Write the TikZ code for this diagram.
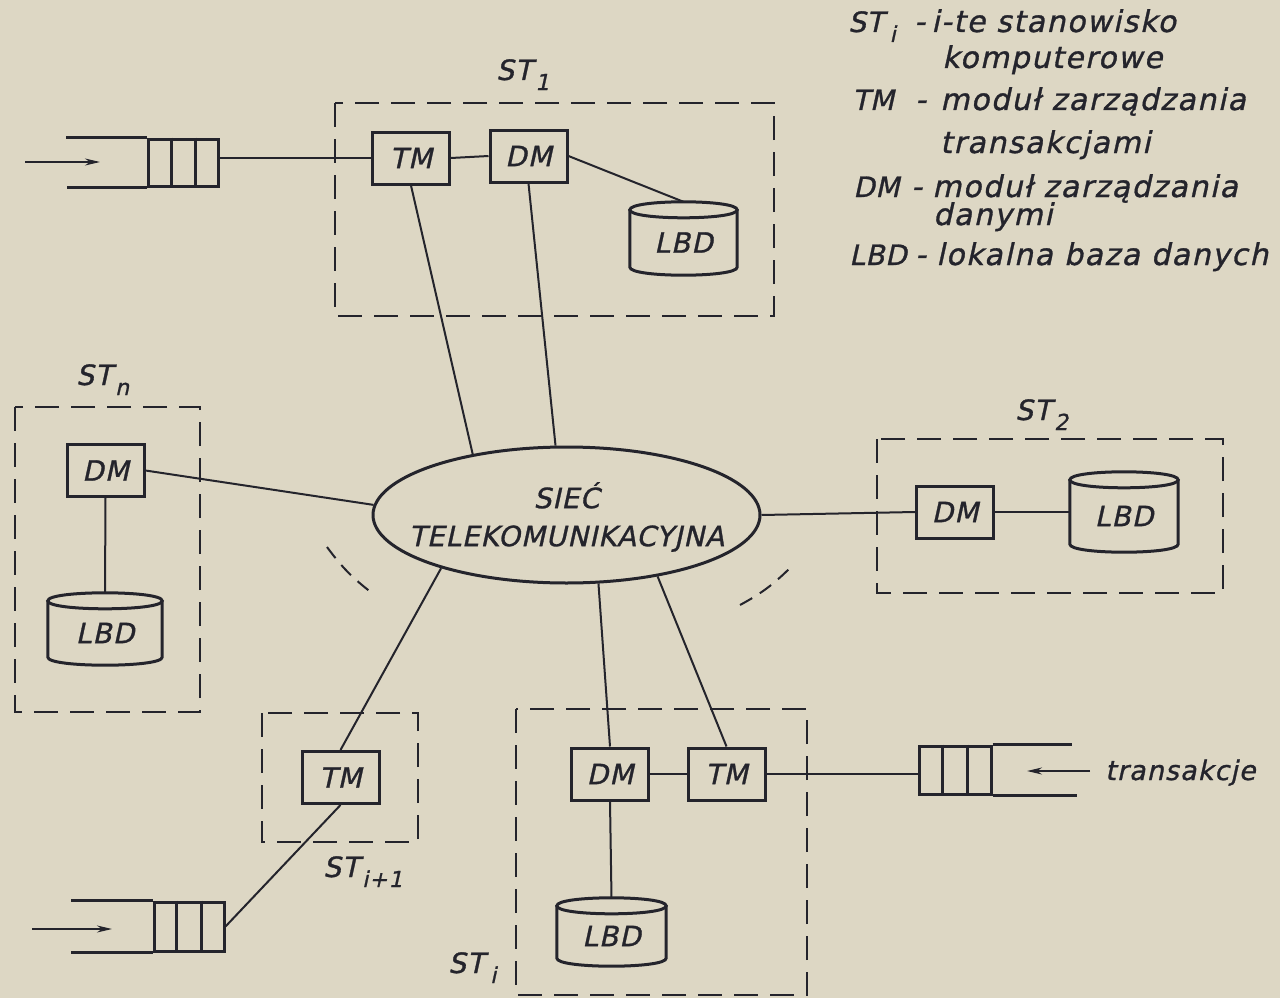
\documentclass[tikz,border=0pt]{standalone}
\usepackage{fontspec}
\setmainfont{DejaVu Sans}[FakeSlant=0.22,FakeBold=1,LetterSpace=5]
\usetikzlibrary{shapes.geometric,arrows.meta,calc}
\definecolor{paper}{RGB}{221,215,196}
\definecolor{ink}{RGB}{36,36,44}
\newcommand\lblfont{\fontsize{28}{32}\selectfont\addfontfeature{LetterSpace=4}}
\newcommand\legfont{\fontsize{30}{34}\selectfont}
\newcommand\keyfont{\fontsize{28}{34}\selectfont\addfontfeature{LetterSpace=2}}
\newcommand\netfont{\fontsize{28}{38}\selectfont\addfontfeature{LetterSpace=3}}
\newcommand\trxfont{\fontsize{27}{30}\selectfont\addfontfeature{LetterSpace=4}}
\newcommand\sbs[1]{\kern3pt\raisebox{-10pt}{\fontsize{22}{22}\selectfont #1}}
\newcommand\sbi{\kern6pt\raisebox{-10pt}{\fontsize{22}{22}\selectfont i}}
\newcommand\cyl[1]{%
  \draw[dbline] ([yshift=-8pt]#1.north west) -- ([yshift=8pt]#1.south west)
    .. controls ([yshift=-2.67pt]#1.south west) and ([yshift=-2.67pt]#1.south east) .. ([yshift=8pt]#1.south east)
    -- ([yshift=-8pt]#1.north east);
  \draw[dbline] ([yshift=-8pt]#1.north west)
    .. controls ([yshift=2.67pt]#1.north west) and ([yshift=2.67pt]#1.north east) .. ([yshift=-8pt]#1.north east)
    .. controls ([yshift=-18.67pt]#1.north east) and ([yshift=-18.67pt]#1.north west) .. cycle;}
\newcommand\qcells[1]{%
  \draw[qline] ($(#1.north west)!1/3!(#1.north east)$) -- ($(#1.south west)!1/3!(#1.south east)$);
  \draw[qline] ($(#1.north west)!2/3!(#1.north east)$) -- ($(#1.south west)!2/3!(#1.south east)$);}
\begin{document}
\begin{tikzpicture}[x=1pt,y=-1pt,
  mod/.style={draw=ink,line width=3pt,minimum width=77pt,minimum height=52pt,inner sep=0pt,font=\lblfont,text=ink},
  db/.style={inner sep=0pt,label={[font=\lblfont,text=ink,yshift=-4pt]center:LBD}},
  dbline/.style={draw=ink,line width=3pt},
  stbox/.style={draw=ink,line width=2.2pt,dash pattern=on 24pt off 12pt},
  link/.style={draw=ink,line width=2pt},
  que/.style={draw=ink,line width=3pt,inner sep=0pt},
  qline/.style={draw=ink,line width=3pt},
  arr/.style={draw=ink,line width=2pt,-{Stealth[length=15pt,width=7pt]}},
  net/.style={ellipse,draw=ink,line width=3pt,inner sep=0pt,minimum width=387pt,minimum height=136pt},
  txt/.style={inner sep=0pt,anchor=base west,text=ink},
  dots/.style={draw=ink,line width=2pt,dash pattern=on 14pt off 9pt}
]
\fill[paper] (0,0) rectangle (1280,998);
\useasboundingbox (0,0) rectangle (1280,998);

% station outlines
\draw[stbox] (335,103) rectangle (774,316);
\draw[stbox] (15,407) rectangle (200,712);
\draw[stbox] (877,439) rectangle (1223,593);
\draw[stbox] (262,713) rectangle (418,842);
\draw[stbox] (516,709) rectangle (807,995);

% station labels
\node[txt,font=\lblfont] (lst1) at (496,80) {ST\sbs{1}};
\node[txt,font=\lblfont] (lstn) at (76,385) {ST\sbs{n}};
\node[txt,font=\lblfont] (lst2) at (1015,420) {ST\sbs{2}};
\node[txt,font=\lblfont] (lsti1) at (323,877) {ST\sbs{i+1}};
\node[txt,font=\lblfont] (lsti) at (448,973) {ST\sbi};

% network
\node[net] (net) at (566.5,515) {};
\node[font=\netfont,align=center,text=ink,inner sep=0pt] (nettxt) at ([yshift=-2pt]net.center) {SIEĆ\\TELEKOMUNIKACYJNA};

% modules
\node[mod] (TM1) at (411,158) {TM};
\node[mod] (DM1) at (528.5,156) {DM};
\node[db,minimum width=107pt,minimum height=73pt] (LBD1) at (683.5,238.5) {};
\node[mod] (DMn) at (105.5,470.5) {DM};
\node[db,minimum width=114pt,minimum height=72pt] (LBDn) at (105,629) {};
\node[mod] (DM2) at (955,512) {DM};
\node[db,minimum width=108pt,minimum height=80pt] (LBD2) at (1124,512) {};
\node[mod] (TMi1) at (340.5,777.5) {TM};
\node[mod] (DMi) at (610,774) {DM};
\node[mod] (TMi) at (726.5,774) {TM};
\node[db,minimum width=109pt,minimum height=68pt] (LBDi) at (611.5,932) {};
\cyl{LBD1}\cyl{LBDn}\cyl{LBD2}\cyl{LBDi}

% queues
\node[que,minimum width=70pt,minimum height=47pt] (Q1) at (183.5,162.5) {};
\qcells{Q1}
\draw[qline] (Q1.north west) -- ++(-81,0);
\draw[qline] (Q1.south west) -- ++(-80,0);
\coordinate (a1s) at (25,162);
\coordinate (a1e) at (100,162);
\draw[arr] (a1s) -- (a1e);

\node[que,minimum width=70pt,minimum height=49pt] (Q3) at (189,926.5) {};
\qcells{Q3}
\draw[qline] (Q3.north west) -- ++(-82,0);
\draw[qline] (Q3.south west) -- ++(-82,0);
\coordinate (a3s) at (32,929);
\coordinate (a3e) at (112,929);
\draw[arr] (a3s) -- (a3e);

\node[que,minimum width=72pt,minimum height=48pt] (Q4) at (955,770) {};
\qcells{Q4}
\draw[qline] (Q4.north east) -- ++(79,0);
\draw[qline] (Q4.south east) -- ++(84,0);
\coordinate (a4s) at (1090,771);
\coordinate (a4e) at (1027,771);
\draw[arr] (a4s) -- (a4e);
\node[txt,font=\trxfont] (trx) at (1105,780) {transakcje};

% connectors
\draw[link] (TM1.west -| Q1.east) -- (TM1.west);
\draw[link] (TM1.east) -- (DM1.west);
\draw[link] (DM1.east) -- (LBD1.north);
\draw[link] (TM1.south) -- (net.147);
\draw[link] (DM1.south) -- (net.99);
\draw[link] (DMn.east) -- (net.177);
\draw[link] (DMn.south) -- (LBDn.north);
\draw[link] (net.east) -- (DM2.west);
\draw[link] (DM2.east) -- (LBD2.west);
\draw[link] (net.203) -- (TMi1.north);
\draw[link] (TMi1.south) -- (Q3.east);
\draw[link] (net.295) -- (DMi.north);
\draw[link] (net.326) -- (TMi.north);
\draw[link] (DMi.east) -- (TMi.west);
\draw[link] (DMi.south) -- (LBDi.north);
\draw[link] (TMi.east) -- (TMi.east -| Q4.west);

% ellipsis marks for further stations
\draw[dots] (327,547) to[bend right=8] (372,593);
\draw[dots] (740,605) to[bend right=8] (790,568);

% legend
\node[txt,font=\keyfont] (k1) at (848,32) {ST\sbi};
\node[txt,font=\legfont] (h1) at (914,32) {-};
\node[txt,font=\legfont] (e1) at (931,32) {i-te stanowisko};
\node[txt,font=\legfont] (e1b) at (942,68) {komputerowe};
\node[txt,font=\keyfont] (k2) at (852,110) {TM};
\node[txt,font=\legfont] (h2) at (915,110) {-};
\node[txt,font=\legfont] (e2) at (940,110) {moduł zarządzania};
\node[txt,font=\legfont] (e2b) at (940,153) {transakcjami};
\node[txt,font=\keyfont] (k3) at (853,197) {DM};
\node[txt,font=\legfont] (h3) at (911,197) {-};
\node[txt,font=\legfont] (e3) at (932,197) {moduł zarządzania};
\node[txt,font=\legfont] (e3b) at (933,225) {danymi};
\node[txt,font=\keyfont] (k4) at (849,265) {LBD};
\node[txt,font=\legfont] (h4) at (915,265) {-};
\node[txt,font=\legfont] (e4) at (936,265) {lokalna baza danych};
\end{tikzpicture}
\end{document}
